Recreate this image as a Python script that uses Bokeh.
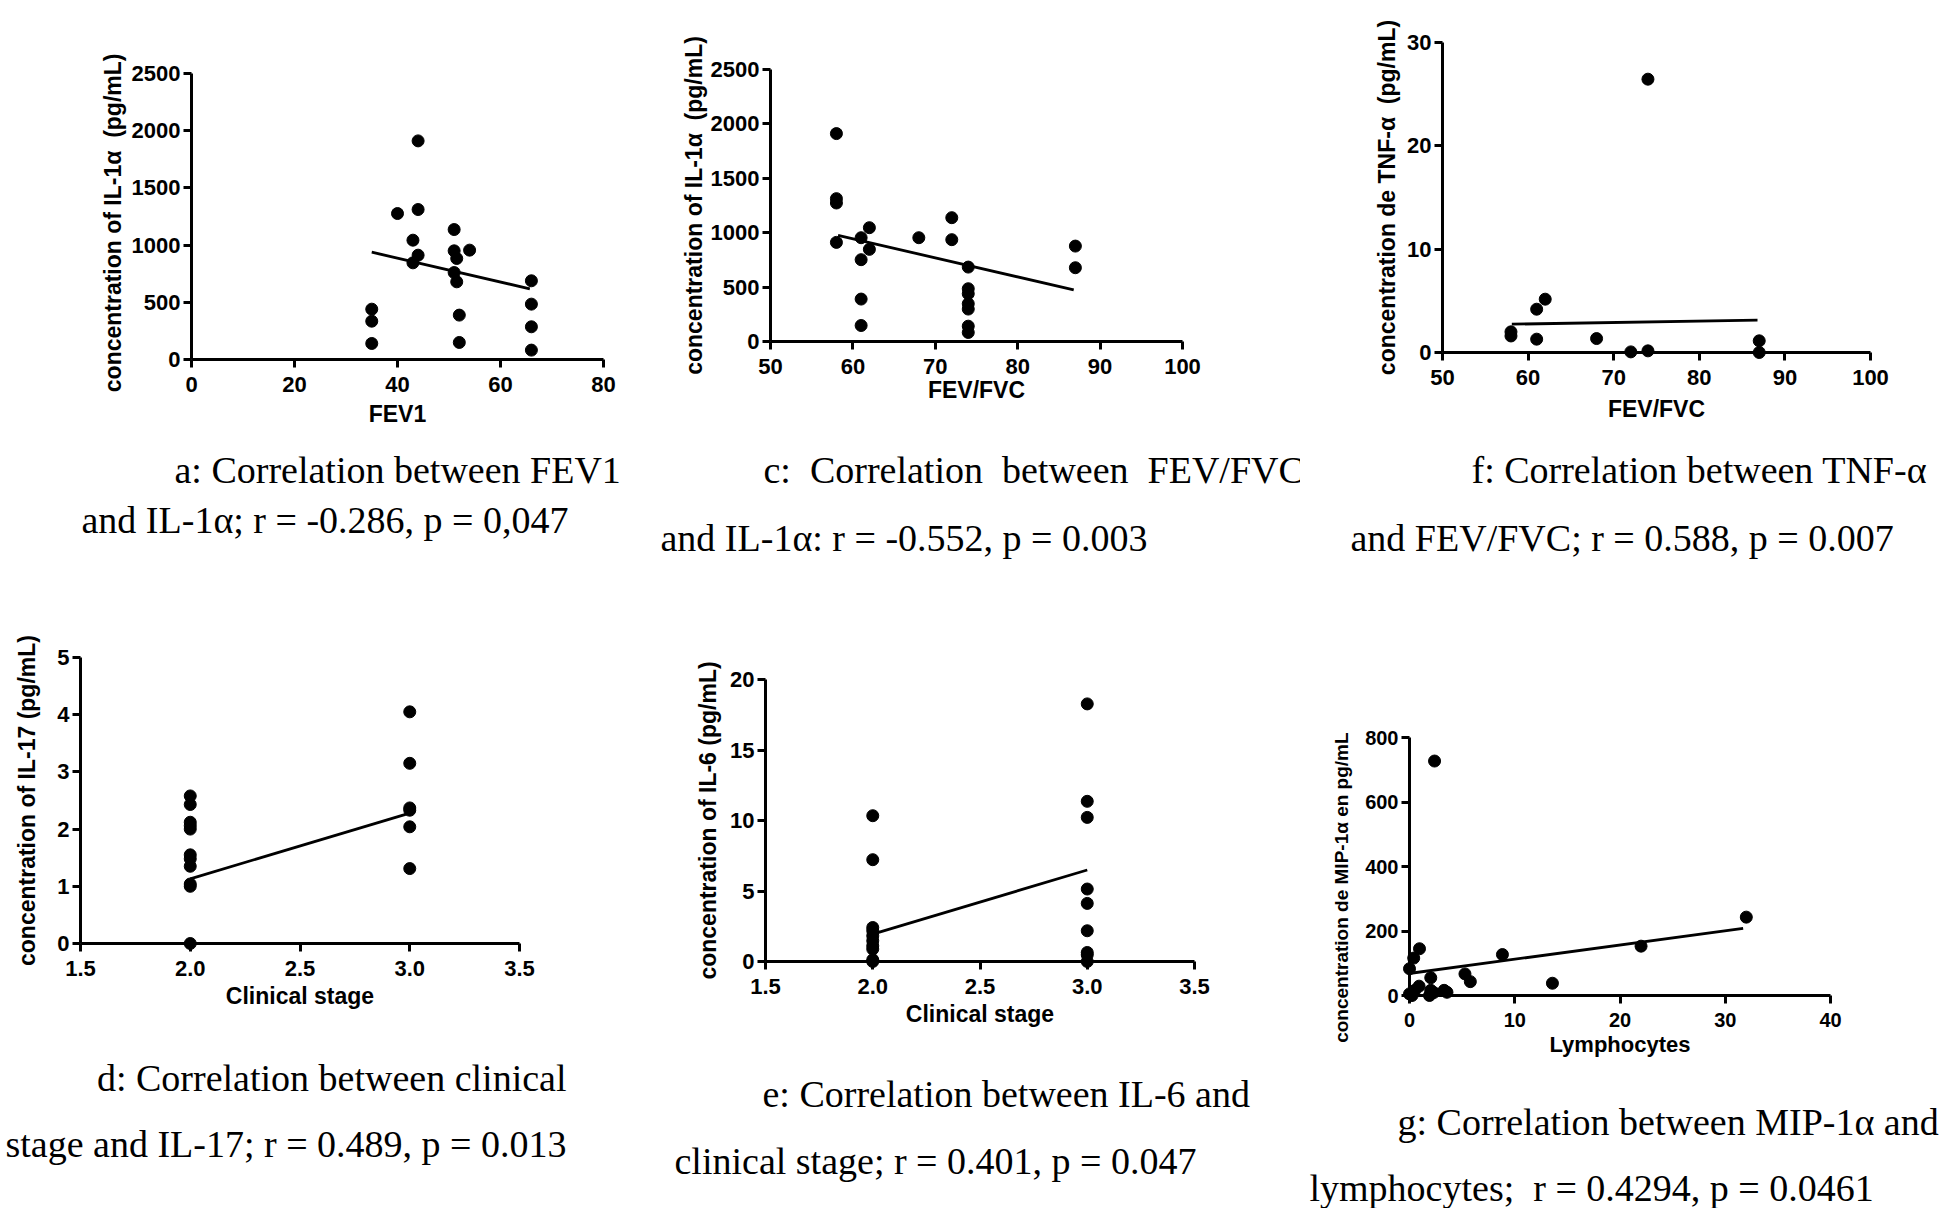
from bokeh.plotting import figure
from bokeh.models import Range1d, FixedTicker, Label, PrintfTickFormatter
from bokeh.layouts import row, column
from bokeh.embed import file_html
from bokeh.resources import INLINE

NB = "\u00a0"

# ---------------- data ----------------
a_x = [35, 35, 35, 40, 44, 44, 43, 44, 43, 51, 51, 51.5, 54, 51, 51.5, 52, 52, 66, 66, 66, 66]
a_y = [140, 335, 440, 1276, 1311, 1911, 1043, 912, 845, 1136, 950, 883, 956, 760, 679, 388, 149, 688, 484, 286, 82]
a_fit_x = [35, 65.7]
a_fit_y = [938, 618]

c_x = [58, 58, 58, 58, 61, 61, 61, 61, 62, 62, 68, 72, 72, 74, 74, 74, 74, 74, 74, 74, 87, 87]
c_y = [1911, 1313, 1273, 911, 954, 752, 390, 147, 1046, 847, 954, 1138, 936, 684, 485, 439, 347, 298, 141, 83, 877, 678]
c_fit_x = [58.2, 86.8]
c_fit_y = [975, 475]

f_x = [74, 62, 61, 58, 58, 61, 68, 72, 74, 87, 87]
f_y = [26.45, 5.16, 4.19, 2.0, 1.6, 1.29, 1.35, 0.06, 0.16, 1.13, 0.0]
f_fit_x = [58.1, 86.8]
f_fit_y = [2.74, 3.13]

d_x = [2, 2, 2, 2, 2, 2, 2, 2, 2, 2, 2, 3, 3, 3, 3, 3, 3]
d_y = [2.58, 2.43, 2.12, 2.06, 2.0, 1.55, 1.48, 1.35, 1.04, 1.0, 0.0, 4.05, 3.15, 2.37, 2.33, 2.04, 1.31]
d_fit_x = [2.0, 3.0]
d_fit_y = [1.13, 2.28]

e_x = [2, 2, 2, 2, 2, 2, 2, 2, 2, 2, 3, 3, 3, 3, 3, 3, 3, 3, 3]
e_y = [10.34, 7.22, 2.41, 2.18, 1.82, 1.47, 1.11, 0.88, 0.12, 0.0,
       18.27, 11.36, 10.22, 5.14, 4.12, 2.18, 0.64, 0.47, 0.0]
e_fit_x = [2.0, 3.0]
e_fit_y = [1.94, 6.49]

g_x = [2.38, 32.0, 22.0, 8.83, 0.95, 0.4, 0.0, 5.27, 5.78, 13.58, 2.02, 0.91, 0.5, 0.0, 2.02, 2.3, 3.29, 3.56, 1.9, 0.24]
g_y = [727, 243, 153, 127, 145, 116, 83, 67, 43, 38, 55, 29, 16, 5, 16, 9, 16, 10, 0, 0]
g_fit_x = [0.12, 31.7]
g_fit_y = [69, 208]

a_xticks = [0, 20, 40, 60, 80]
il1_yticks = [0, 500, 1000, 1500, 2000, 2500]
fev_xticks = [50, 60, 70, 80, 90, 100]
f_yticks = [0, 10, 20, 30]
stage_xticks = [1.5, 2.0, 2.5, 3.0, 3.5]
d_yticks = [0, 1, 2, 3, 4, 5]
e_yticks = [0, 5, 10, 15, 20]
g_xticks = [0, 10, 20, 30, 40]
g_yticks = [0, 200, 400, 600, 800]


def panel(box, split, px, py, xticks, yticks, xs, ys, fx, fy, xlabel, ylabel, captions,
          xfmt=None, tick_size="22px", label_size="23px", ylabel_size="23px",
          y_als=8, x_als=5):
    fl, ft, fr, fb = box
    px0, px1 = px
    py1, py0 = py
    xmin, xmax = xticks[0], xticks[-1]
    ymin, ymax = yticks[0], yticks[-1]
    p = figure(width=fr - fl, height=split - ft, title=None,
               x_range=Range1d(xmin, xmax), y_range=Range1d(ymin, ymax),
               output_backend="svg", toolbar_location=None,
               min_border_left=px0 - fl, min_border_right=fr - px1,
               min_border_top=py1 - ft, min_border_bottom=split - py0)
    p.frame_align = False
    p.outline_line_color = None
    p.grid.visible = False
    p.background_fill_color = "white"
    p.border_fill_color = "white"

    p.xaxis.ticker = FixedTicker(ticks=xticks)
    p.yaxis.ticker = FixedTicker(ticks=yticks)
    if xfmt:
        p.xaxis.formatter = PrintfTickFormatter(format=xfmt)
    for ax in (p.xaxis[0], p.yaxis[0]):
        ax.axis_line_width = 3
        ax.axis_line_color = "black"
        ax.major_tick_line_width = 3
        ax.major_tick_line_color = "black"
        ax.major_tick_out = 8
        ax.major_tick_in = 0
        ax.minor_tick_line_color = None
        ax.major_label_text_font = "Liberation Sans"
        ax.major_label_text_font_style = "bold"
        ax.major_label_text_font_size = tick_size
        ax.major_label_text_color = "black"
        ax.axis_label_text_font = "Liberation Sans"
        ax.axis_label_text_font_style = "bold"
        ax.axis_label_text_color = "black"
    p.xaxis.major_label_standoff = 9
    p.yaxis.major_label_standoff = 3
    p.xaxis.axis_label = xlabel
    p.yaxis.axis_label = ylabel
    p.xaxis.axis_label_text_font_size = label_size
    p.yaxis.axis_label_text_font_size = ylabel_size
    p.xaxis.axis_label_standoff = x_als
    p.yaxis.axis_label_standoff = y_als

    p.line(fx, fy, line_width=2.8, line_color="black")
    p.scatter(xs, ys, size=12, fill_color="black", line_color="black", level="overlay")

    # caption strip below the chart: its ranges are page pixels
    cap = figure(width=fr - fl, height=fb - split, title=None,
                 x_range=Range1d(fl, fr), y_range=Range1d(fb, split),
                 output_backend="svg", toolbar_location=None,
                 x_axis_location=None, y_axis_location=None,
                 min_border=0, min_border_left=0, min_border_right=0,
                 min_border_top=0, min_border_bottom=0)
    cap.frame_align = False
    cap.outline_line_color = None
    cap.grid.visible = False
    for text, tx, ty, align in captions:
        cap.add_layout(Label(x=tx, y=ty, text=text, text_font="Liberation Serif",
                             text_font_size="38px", text_color="black",
                             text_align=align, text_baseline="alphabetic"))
    return column(p, cap, spacing=0)


pa = panel((0, 0, 650, 600), 445, (191, 603), (73, 359), a_xticks, il1_yticks, a_x, a_y, a_fit_x, a_fit_y,
           "FEV1", "concentration of IL-1α" + NB + " (pg/mL)" + NB * 2,
           [("a: Correlation between FEV1", 174, 469, "left"),
            ("and IL-1α; r = -0.286, p = 0,047", 81, 519, "left")],
           y_als=3, x_als=6)
pc = panel((650, 0, 1300, 600), 445, (770, 1182), (69, 341), fev_xticks, il1_yticks, c_x, c_y, c_fit_x, c_fit_y,
           "FEV/FVC", "concentration of IL-1α" + NB + " (pg/mL)",
           [("c:" + NB + " Correlation" + NB + " between" + NB + " FEV/FVC", 763, 469, "left"),
            ("and IL-1α: r = -0.552, p = 0.003", 660, 537, "left")],
           y_als=1, x_als=0)
pf = panel((1300, 0, 1946, 600), 445, (1442, 1870), (42, 352), fev_xticks, f_yticks, f_x, f_y, f_fit_x, f_fit_y,
           "FEV/FVC", "concentration de TNF-α" + NB + " (pg/mL)",
           [("f: Correlation between TNF-α", 1471, 469, "left"),
            ("and FEV/FVC; r = 0.588, p = 0.007", 1350, 537, "left")],
           y_als=4, x_als=8)
pd_ = panel((0, 600, 650, 1208), 1050, (80, 519), (657, 943), stage_xticks, d_yticks, d_x, d_y, d_fit_x, d_fit_y,
            "Clinical stage", "concentration of IL-17 (pg/mL)",
            [("d: Correlation between clinical", 566, 1077, "right"),
             ("stage and IL-17; r = 0.489, p = 0.013", 566, 1143, "right")],
            xfmt="%.1f", y_als=14, x_als=4)
pe = panel((650, 600, 1300, 1208), 1060, (765, 1194), (679, 961), stage_xticks, e_yticks, e_x, e_y, e_fit_x, e_fit_y,
           "Clinical stage", "concentration of IL-6 (pg/mL)",
           [("e: Correlation between IL-6 and", 762, 1093, "left"),
            ("clinical stage; r = 0.401, p = 0.047", 674, 1160, "left")],
           xfmt="%.1f", y_als=6, x_als=4)
pg = panel((1300, 600, 1946, 1208), 1095, (1409, 1830), (737, 995), g_xticks, g_yticks, g_x, g_y, g_fit_x, g_fit_y,
           "Lymphocytes", "concentration de MIP-1α en pg/mL" + NB * 8,
           [("g: Correlation between MIP-1α and", 1397, 1121, "left"),
            ("lymphocytes;" + NB + " r = 0.4294, p = 0.0461", 1309, 1187, "left")],
           tick_size="20px", label_size="22px", ylabel_size="19px", y_als=10, x_als=2)

layout = column(row(pa, pc, pf, spacing=0), row(pd_, pe, pg, spacing=0), spacing=0)
open("out.html", "w").write(file_html(layout, INLINE))
